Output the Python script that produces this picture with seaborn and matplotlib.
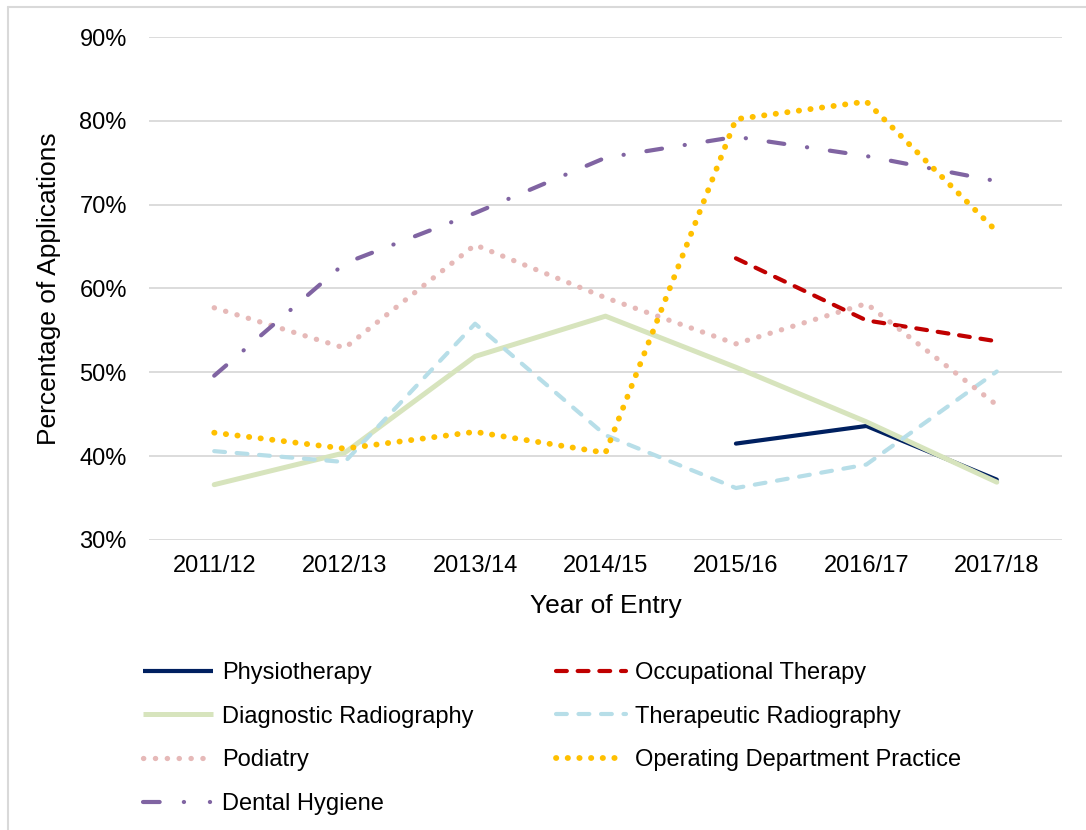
import numpy as np
import pandas as pd
import matplotlib
matplotlib.use('Agg')
import matplotlib.pyplot as plt
import seaborn as sns
from matplotlib.lines import Line2D
from matplotlib.ticker import PercentFormatter

# Data (share of applications, %)
years = ['2011/12', '2012/13', '2013/14', '2014/15', '2015/16', '2016/17', '2017/18']
physiotherapy = [np.nan, np.nan, np.nan, np.nan, 41.5, 43.6, 37.2]
occupational_therapy = [np.nan, np.nan, np.nan, np.nan, 63.6, 56.2, 53.7]
diagnostic_radiography = [36.6, 40.4, 51.9, 56.7, 50.6, 44.1, 36.9]
therapeutic_radiography = [40.6, 39.3, 55.8, 42.5, 36.2, 39.0, 50.1]
podiatry = [57.7, 52.9, 65.2, 58.9, 53.4, 58.2, 46.1]
operating_dept_practice = [42.8, 40.9, 42.9, 40.4, 80.2, 82.3, 66.8]
dental_hygiene = [49.6, 63.0, 69.0, 75.6, 78.1, 75.8, 72.8]

series = [
    ('Physiotherapy', physiotherapy),
    ('Occupational Therapy', occupational_therapy),
    ('Diagnostic Radiography', diagnostic_radiography),
    ('Therapeutic Radiography', therapeutic_radiography),
    ('Podiatry', podiatry),
    ('Operating Department Practice', operating_dept_practice),
    ('Dental Hygiene', dental_hygiene),
]

# style per series: colour, linewidth, dash pattern (None = solid)
styles = {
    'Physiotherapy': ('#002060', 3.0, None),
    'Occupational Therapy': ('#C00000', 3.0, (2.6, 2.6)),
    'Diagnostic Radiography': ('#D7E4BD', 3.6, None),
    'Therapeutic Radiography': ('#B7DEE8', 3.0, (2.6, 2.8)),
    'Podiatry': ('#E6B9B8', 3.8, (0.05, 2.2)),
    'Operating Department Practice': ('#FFC000', 4.2, (0.05, 1.95)),
    'Dental Hygiene': ('#8064A2', 3.0, (3.8, 5.5, 0.05, 5.5)),
}
# the legend key of Dental Hygiene shows a dash followed by two dots
legend_dashes = {'Dental Hygiene': (4.0, 5.8, 0.05, 6.2, 0.05, 10)}

df = pd.DataFrame({'year': years, 'pos': np.arange(len(years))})
for name, vals in series:
    df[name] = vals

sns.set_style('white')
plt.rcParams['font.family'] = ['Liberation Sans', 'DejaVu Sans']
plt.rcParams['text.color'] = 'black'
plt.rcParams['axes.labelcolor'] = 'black'
plt.rcParams['xtick.color'] = 'black'
plt.rcParams['ytick.color'] = 'black'

fig = plt.figure(figsize=(10.86, 8.3), dpi=100)
ax = fig.add_axes([149 / 1086, 1 - 540 / 830, 913 / 1086, 503 / 830])

handles = {}
for name, vals in series:
    color, lw, dash = styles[name]
    sns.lineplot(data=df, x='pos', y=name, color=color, lw=lw, ax=ax)
    line = ax.lines[-1]
    if dash is None:
        line.set_solid_capstyle('round')
    else:
        line.set_dashes(dash)
        line.set_dash_capstyle('round')
    h = Line2D([0], [0], color=color, lw=lw, solid_capstyle='butt')
    if dash is not None:
        h.set_dashes(legend_dashes.get(name, dash))
        h.set_dash_capstyle('round')
    handles[name] = h

ax.set_xlim(-0.5, len(years) - 0.5)
ax.set_ylim(30, 90)
ax.set_xticks(df['pos'])
ax.set_xticklabels(years, fontsize=17)
ax.set_yticks(np.arange(30, 91, 10))
ax.yaxis.set_major_formatter(PercentFormatter(decimals=0))
ax.tick_params(axis='y', labelsize=17, length=0, pad=16)
ax.tick_params(axis='x', length=0, pad=11)
ax.grid(axis='y', color='#D9D9D9', lw=1.3)
ax.grid(axis='x', visible=False)
ax.set_axisbelow(True)
for s in ax.spines.values():
    s.set_visible(False)

ax.set_xlabel('Year of Entry', fontsize=19, labelpad=12)
ax.set_ylabel('Percentage of Applications', fontsize=19, labelpad=13)

# legend, laid out row by row as in two columns
col1 = ['Physiotherapy', 'Diagnostic Radiography', 'Podiatry', 'Dental Hygiene']
col2 = ['Occupational Therapy', 'Therapeutic Radiography', 'Operating Department Practice']
leg_kw = dict(loc='upper left', frameon=False, fontsize=17, handlelength=2.97,
              handletextpad=0.38, labelspacing=0.92, borderpad=0, borderaxespad=0)
fig.legend([handles[n] for n in col1], col1, bbox_to_anchor=(143 / 1086, 1 - 662 / 830), **leg_kw)
fig.legend([handles[n] for n in col2], col2, bbox_to_anchor=(556 / 1086, 1 - 662 / 830), **leg_kw)

# chart border (left and top visible)
fig.add_artist(Line2D([8 / 1086, 8 / 1086], [0, 1 - 7 / 830], color='#D9D9D9', lw=1.5,
                      transform=fig.transFigure))
fig.add_artist(Line2D([8 / 1086, 1], [1 - 7 / 830, 1 - 7 / 830], color='#D9D9D9', lw=1.5,
                      transform=fig.transFigure))

fig.savefig('out.png', dpi=100)
